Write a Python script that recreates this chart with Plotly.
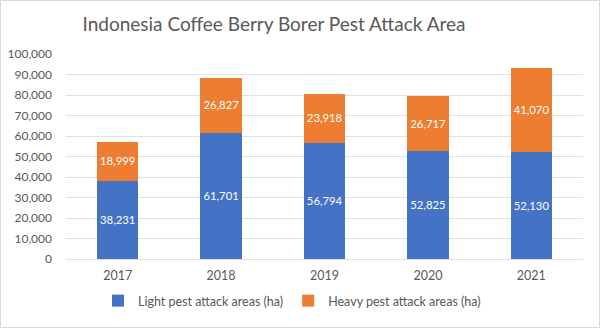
import plotly.graph_objects as go

years = ["2017", "2018", "2019", "2020", "2021"]
light = [38231, 61701, 56794, 52825, 52130]
heavy = [18999, 26827, 23918, 26717, 41070]
y_ticks = list(range(0, 100001, 10000))
y_tick_labels = [f"{v:,}" for v in y_ticks]

FONT = "Lato, Carlito, Calibri, sans-serif"
GRAY = "#595959"

fig = go.Figure()
fig.add_trace(go.Bar(
    x=years, y=light, name="Light pest attack areas (ha)",
    marker=dict(color="#4472C4", line=dict(width=0)),
    text=[f"{v:,}" for v in light], textposition="inside", insidetextanchor="middle",
    textfont=dict(color="white", size=12, family=FONT), textangle=0,
))
fig.add_trace(go.Bar(
    x=years, y=heavy, name="Heavy pest attack areas (ha)",
    marker=dict(color="#ED7D31", line=dict(width=0)),
    text=[f"{v:,}" for v in heavy], textposition="inside", insidetextanchor="middle",
    textfont=dict(color="white", size=12, family=FONT), textangle=0,
))

L, R, T, B = 66, 17, 54, 69
W, H = 600, 328
pw, ph = W - L - R, H - T - B

fig.update_layout(
    width=W, height=H,
    barmode="stack", bargap=0.6,
    margin=dict(l=L, r=R, t=T, b=B, pad=0, autoexpand=False),
    paper_bgcolor="white", plot_bgcolor="white",
    font=dict(family=FONT, color=GRAY, size=12),
    title=dict(text="Indonesia Coffee Berry Borer Pest Attack Area",
               x=274 / W, xanchor="center", y=1 - 24 / H, yanchor="middle",
               font=dict(size=19, color=GRAY, family=FONT)),
    xaxis=dict(showgrid=False, showline=True, linecolor="#E0E0E0", linewidth=1,
               ticks="", tickfont=dict(size=12.5, color=GRAY), ticklabelstandoff=5,
               automargin=False),
    yaxis=dict(range=[0, 100000], tickvals=y_ticks, ticktext=y_tick_labels,
               showgrid=True, gridcolor="#E0E0E0", gridwidth=1, zeroline=False,
               showline=False, ticks="", tickfont=dict(size=12, color=GRAY),
               ticklabelstandoff=13, automargin=False),
    legend=dict(orientation="h", x=(292 - L) / pw, xanchor="center",
                y=-(301 - (H - B)) / ph, yanchor="middle",
                font=dict(size=12.5, color=GRAY), traceorder="normal",
                itemwidth=30),
    showlegend=True,
    uniformtext=dict(minsize=8, mode="show"),
)
fig.add_shape(type="rect", xref="paper", yref="paper",
              x0=-(L - 0.5) / pw, x1=(W - 0.5 - L) / pw,
              y0=-(B - 0.5) / ph, y1=(H - 0.5 - B) / ph,
              line=dict(color="#D9D9D9", width=1), fillcolor="rgba(0,0,0,0)", layer="below")

fig.write_html("out.html")
